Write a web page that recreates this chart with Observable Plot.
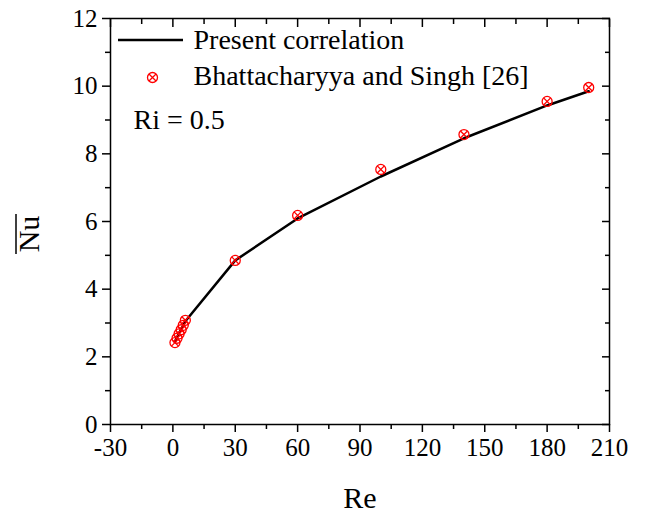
<!DOCTYPE html>
<html>
<head>
<meta charset="utf-8">
<script src="https://cdn.jsdelivr.net/npm/d3@7"></script>
<script src="https://cdn.jsdelivr.net/npm/@observablehq/plot@0.6"></script>
<style>
  html, body { margin: 0; padding: 0; background: #fff; }
  svg text { font-family: 'Liberation Serif', 'Times New Roman', serif; }
</style>
</head>
<body>
<div id="chart"></div>
<script>
// Data
const refRe = [1, 2, 3, 4, 5, 6, 30, 60, 100, 140, 180, 200];
const refNu = [2.42, 2.55, 2.68, 2.80, 2.93, 3.08, 4.85, 6.18, 7.54, 8.57, 9.55, 9.96];
const corrRe = [1, 2, 3, 4, 5, 6, 30, 60, 100, 140, 180, 200];
const corrNu = [2.45, 2.58, 2.70, 2.82, 2.94, 3.05, 4.85, 6.09, 7.33, 8.46, 9.43, 9.85];
const xMajor = [-30, 0, 30, 60, 90, 120, 150, 180, 210];
const xMinor = [-15, 15, 45, 75, 105, 135, 165, 195];
const yMajor = [0, 2, 4, 6, 8, 10, 12];
const yMinor = [1, 3, 5, 7, 9, 11];
const legendLabels = ["Present correlation", "Bhattacharyya and Singh [26]"];
const annotation = "Ri = 0.5";
const xTitle = "Re";
const yTitle = "Nu";

const refData = refRe.map((r, i) => ({Re: r, Nu: refNu[i]}));
const corrData = corrRe.map((r, i) => ({Re: r, Nu: corrNu[i]}));
const noText = () => "";
const plain = d => String(d);
const RED = "#ff0000";
const FONT = "'Liberation Serif', 'Times New Roman', serif";
const SVGNS = "http://www.w3.org/2000/svg";

const legendLine = (index, scales, values, dims) => {
  const l = document.createElementNS(SVGNS, "line");
  const x0 = dims.marginLeft + 8, y0 = dims.marginTop + 22;
  l.setAttribute("x1", x0); l.setAttribute("x2", x0 + 65);
  l.setAttribute("y1", y0); l.setAttribute("y2", y0);
  l.setAttribute("stroke", "black"); l.setAttribute("stroke-width", 2.5);
  return l;
};

// rotated y title with overline
const yLabel = (index, scales, values, dims) => {
  const g = document.createElementNS(SVGNS, "g");
  const cy = dims.marginTop + (dims.height - dims.marginTop - dims.marginBottom) / 2 + 13;
  const cx = 28;
  g.setAttribute("transform", `translate(${cx},${cy}) rotate(-90)`);
  const t = document.createElementNS(SVGNS, "text");
  t.setAttribute("text-anchor", "middle");
  t.setAttribute("dy", "0.35em");
  t.setAttribute("font-size", 30);
  t.setAttribute("font-family", FONT);
  t.setAttribute("fill", "black");
  t.textContent = yTitle;
  g.appendChild(t);
  const ol = document.createElementNS(SVGNS, "line");
  ol.setAttribute("x1", -20); ol.setAttribute("x2", 20);
  ol.setAttribute("y1", -12); ol.setAttribute("y2", -12);
  ol.setAttribute("stroke", "black"); ol.setAttribute("stroke-width", 1.5);
  g.appendChild(ol);
  return g;
};

const chart = Plot.plot({
  width: 645,
  height: 516,
  marginLeft: 110,
  marginRight: 36,
  marginTop: 18,
  marginBottom: 92,
  style: {fontFamily: FONT, fontSize: "25px", color: "black", background: "white"},
  x: {domain: [-30, 210]},
  y: {domain: [0, 12]},
  marks: [
    // bottom axis
    Plot.axisX(xMajor, {anchor: "bottom", tickSize: 8, tickPadding: 6, strokeWidth: 1.5, fontSize: 25, fontFamily: FONT, tickFormat: plain, label: null}),
    Plot.axisX(xMinor, {anchor: "bottom", tickSize: 5, tickFormat: noText, strokeWidth: 1.5, label: null}),
    // top mirror (inward)
    Plot.axisX(xMajor, {anchor: "top", tickSize: 8, dy: 8, tickFormat: noText, strokeWidth: 1.5, label: null}),
    Plot.axisX(xMinor, {anchor: "top", tickSize: 5, dy: 5, tickFormat: noText, strokeWidth: 1.5, label: null}),
    // left axis
    Plot.axisY(yMajor, {anchor: "left", tickSize: 8, tickPadding: 5, strokeWidth: 1.5, fontSize: 25, fontFamily: FONT, tickFormat: plain, label: null}),
    Plot.axisY(yMinor, {anchor: "left", tickSize: 5, tickFormat: noText, strokeWidth: 1.5, label: null}),
    // right mirror (inward)
    Plot.axisY(yMajor, {anchor: "right", tickSize: 8, dx: -8, tickFormat: noText, strokeWidth: 1.5, label: null}),
    Plot.axisY(yMinor, {anchor: "right", tickSize: 5, dx: -5, tickFormat: noText, strokeWidth: 1.5, label: null}),
    Plot.frame({stroke: "black", strokeWidth: 1.5}),
    // data
    Plot.line(corrData, {x: "Re", y: "Nu", stroke: "black", strokeWidth: 2.5}),
    Plot.dot(refData, {x: "Re", y: "Nu", r: 5, stroke: RED, strokeWidth: 1.3, fill: "none"}),
    Plot.dot(refData, {x: "Re", y: "Nu", r: 3.3, symbol: "times", stroke: RED, strokeWidth: 1.3}),
    // legend
    legendLine,
    Plot.text([legendLabels[0]], {frameAnchor: "top-left", dx: 83, dy: 22, textAnchor: "start", lineAnchor: "middle", fontSize: 28, fontFamily: FONT, fill: "black"}),
    Plot.dot([0], {frameAnchor: "top-left", dx: 42, dy: 59, r: 5, stroke: RED, strokeWidth: 1.3, fill: "none"}),
    Plot.dot([0], {frameAnchor: "top-left", dx: 42, dy: 59, r: 3.3, symbol: "times", stroke: RED, strokeWidth: 1.3}),
    Plot.text([legendLabels[1]], {frameAnchor: "top-left", dx: 83, dy: 58, textAnchor: "start", lineAnchor: "middle", fontSize: 28, fontFamily: FONT, fill: "black"}),
    Plot.text([annotation], {frameAnchor: "top-left", dx: 23, dy: 102, textAnchor: "start", lineAnchor: "middle", fontSize: 28, fontFamily: FONT, fill: "black"}),
    // axis titles
    Plot.text([xTitle], {frameAnchor: "bottom", dy: 74, lineAnchor: "middle", fontSize: 30, fontFamily: FONT, fill: "black"}),
    yLabel
  ]
});

document.getElementById("chart").appendChild(chart);
</script>
</body>
</html>
